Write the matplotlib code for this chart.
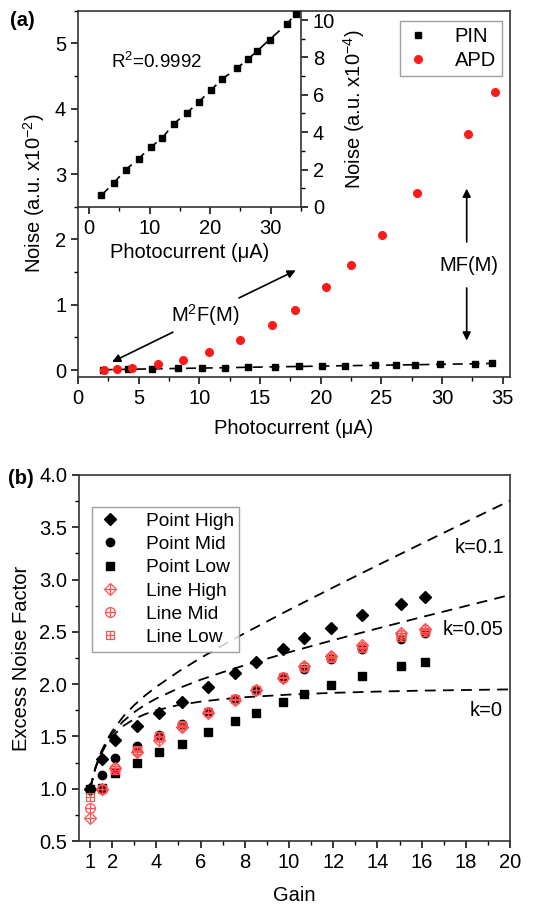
import matplotlib
matplotlib.use("Agg")
import matplotlib.pyplot as plt
from matplotlib.ticker import MultipleLocator, FixedLocator, FormatStrFormatter
from matplotlib.legend_handler import HandlerTuple

plt.rcParams['font.family'] = ['Liberation Sans', 'DejaVu Sans']
plt.rcParams['mathtext.fontset'] = 'custom'
plt.rcParams['mathtext.rm'] = 'Liberation Sans'

# ---- panel (a) data ----
pin_current = [2.04, 4.08, 6.07, 8.22, 10.2, 12.08, 14.0, 16.2, 18.2, 20.1, 22.0,
               24.5, 26.2, 27.8, 29.8, 32.7, 34.1]
pin_noise_e4 = [0.62, 1.28, 1.99, 2.59, 3.20, 3.68, 4.45, 5.04, 5.64, 6.24, 6.84,
                7.44, 7.89, 8.35, 8.95, 9.79, 10.34]   # a.u. x1e-4
apd_current = [2.12, 3.22, 4.48, 6.63, 8.63, 10.83, 13.34, 15.95, 17.9, 20.46,
               22.52, 25.05, 27.93, 32.1, 34.4]
apd_noise_e2 = [0.0, 0.015, 0.04, 0.087, 0.163, 0.275, 0.46, 0.69, 0.917, 1.27,
                1.61, 2.07, 2.71, 3.62, 4.25]            # a.u. x1e-2

# ---- panel (b) data ----
gain = [1.0, 1.53, 2.13, 3.14, 4.12, 5.15, 6.35, 7.58, 8.53, 9.72, 10.68, 11.89,
        13.29, 15.09, 16.16]
point_high = [1.0, 1.28, 1.47, 1.60, 1.72, 1.83, 1.97, 2.11, 2.21, 2.34, 2.44,
              2.54, 2.66, 2.77, 2.83]
point_mid = [1.0, 1.13, 1.29, 1.41, 1.51, 1.62, 1.73, 1.855, 1.94, 2.055, 2.148,
             2.237, 2.336, 2.43, 2.486]
point_low = [1.0, 1.01, 1.147, 1.25, 1.35, 1.43, 1.54, 1.647, 1.724, 1.83, 1.91,
             1.99, 2.08, 2.17, 2.21]
line_high = [0.72, 1.0, 1.195, 1.35, 1.47, 1.59, 1.72, 1.85, 1.94, 2.06, 2.17,
             2.27, 2.37, 2.486, 2.53]
line_mid = [0.82, 1.0, 1.20, 1.36, 1.49, 1.60, 1.73, 1.855, 1.945, 2.07, 2.165,
            2.26, 2.36, 2.47, 2.52]
line_low = [0.92, 1.0, 1.18, 1.37, 1.50, 1.61, 1.73, 1.86, 1.945, 2.065, 2.16,
            2.25, 2.345, 2.45, 2.50]

# theory curves
theory_gain = [1, 1.25, 1.5, 1.75, 2, 2.5, 3, 3.5, 4, 5, 6, 7, 8, 10, 12, 14, 16, 18, 20]
k_0 = [1.0, 1.2, 1.333, 1.429, 1.5, 1.6, 1.667, 1.714, 1.75, 1.8, 1.833, 1.857,
       1.875, 1.9, 1.917, 1.929, 1.938, 1.944, 1.95]
k_005 = [1.0, 1.203, 1.342, 1.445, 1.525, 1.645, 1.733, 1.804, 1.863, 1.96, 2.042,
         2.114, 2.181, 2.305, 2.421, 2.532, 2.641, 2.747, 2.853]
k_01 = [1.0, 1.205, 1.35, 1.461, 1.55, 1.69, 1.8, 1.893, 1.975, 2.12, 2.25, 2.371,
        2.488, 2.71, 2.925, 3.136, 3.344, 3.55, 3.755]

RED = '#ff1a1a'
PINK = '#ff5050'
FS = 14.5
DASH = (0, (6, 4))


def style_ticks(ax):
    ax.tick_params(which='major', direction='out', length=5, width=1.1, labelsize=FS)
    ax.tick_params(which='minor', direction='out', length=3, width=1.0)
    for s in ax.spines.values():
        s.set_linewidth(1.2)
        s.set_color('#333333')


fig = plt.figure(figsize=(5.47, 9.11), dpi=100)

# ================= (a) =================
ax = fig.add_axes([0.1426, 0.5865, 0.7898, 0.4018])
pin_main = [v / 100.0 for v in pin_noise_e4]
ax.plot(pin_current, pin_main, color='black', linestyle=DASH, linewidth=1.2)
ax.plot(pin_current, pin_main, color='black', linestyle='none',
        marker='s', markersize=5, label='PIN')
ax.plot(apd_current, apd_noise_e2, linestyle='none', marker='o', markersize=5.5,
        color=RED, label='APD')
ax.set_xlim(0, 35.6)
ax.set_ylim(-0.1, 5.5)
ax.xaxis.set_major_locator(MultipleLocator(5))
ax.xaxis.set_minor_locator(MultipleLocator(2.5))
ax.yaxis.set_major_locator(MultipleLocator(1))
ax.yaxis.set_minor_locator(MultipleLocator(0.5))
style_ticks(ax)
ax.set_xlabel('Photocurrent (μA)', fontsize=FS, labelpad=8)
ax.set_ylabel('Noise (a.u. x10$^{-2}$)', fontsize=FS, labelpad=6)
leg = ax.legend(loc='upper right', bbox_to_anchor=(0.981, 0.972), borderaxespad=0,
                fontsize=FS, frameon=True, fancybox=False, edgecolor='#888888',
                handletextpad=1.2, borderpad=0.3, labelspacing=0.25, handlelength=1.2)
leg.get_frame().set_linewidth(1.0)

ax.text(10.45, 0.85, 'M$^2$F(M)', fontsize=FS, ha='center', va='center')
arrow = dict(arrowstyle='-|>', color='black', lw=1.2, mutation_scale=12)
ax.annotate('', xy=(2.6, 0.107), xytext=(8.03, 0.60), arrowprops=arrow)
ax.annotate('', xy=(18.15, 1.545), xytext=(13.06, 1.086), arrowprops=arrow)
ax.text(32.17, 1.60, 'MF(M)', fontsize=FS, ha='center', va='center')
ax.annotate('', xy=(32.03, 2.82), xytext=(32.03, 1.92), arrowprops=arrow)
ax.annotate('', xy=(32.03, 0.41), xytext=(32.03, 1.30), arrowprops=arrow)

# inset
ins = fig.add_axes([0.1426, 0.7728, 0.4077, 0.2155])
ins.patch.set_alpha(0)
ins.plot(pin_current, pin_noise_e4, color='black', linestyle=DASH, linewidth=1.2,
         marker='s', markersize=5)
ins.set_xlim(-1.8, 35)
ins.set_ylim(0, 10.5)
ins.spines['left'].set_visible(False)
ins.spines['top'].set_visible(False)
ins.yaxis.tick_right()
ins.yaxis.set_label_position('right')
ins.xaxis.set_major_locator(MultipleLocator(10))
ins.xaxis.set_minor_locator(MultipleLocator(5))
ins.yaxis.set_major_locator(MultipleLocator(2))
ins.yaxis.set_minor_locator(MultipleLocator(1))
style_ticks(ins)
ins.set_xlabel('Photocurrent (μA)', fontsize=FS, labelpad=4)
ins.set_ylabel('Noise (a.u. x10$^{-4}$)', fontsize=FS, labelpad=4)
ins.text(3.7, 7.76, 'R$^2$=0.9992', fontsize=13.5, ha='left', va='center')

fig.text(0.018, 0.978, '(a)', fontsize=FS, fontweight='bold', ha='left', va='center')

# ================= (b) =================
bx = fig.add_axes([0.1444, 0.0768, 0.788, 0.4018])
for yk in (k_01, k_005, k_0):
    bx.plot(theory_gain, yk, color='black', linestyle=DASH, linewidth=1.3)

h1, = bx.plot(gain, point_high, linestyle='none', marker='D', markersize=6,
              color='black')
h2, = bx.plot(gain, point_mid, linestyle='none', marker='o', markersize=6,
              color='black')
h3, = bx.plot(gain, point_low, linestyle='none', marker='s', markersize=6,
              color='black')


def open_cross(y, mk, ms):
    a, = bx.plot(gain, y, linestyle='none', marker=mk, markersize=ms,
                 markerfacecolor='none', markeredgecolor=PINK, markeredgewidth=0.9)
    b, = bx.plot(gain, y, linestyle='none', marker='+', markersize=ms,
                 color=PINK, markeredgewidth=0.9)
    return (a, b)


h4 = open_cross(line_high, 'D', 6.5)
h5 = open_cross(line_mid, 'o', 7)
h6 = open_cross(line_low, 's', 6)

bx.set_xlim(0.5, 20)
bx.set_ylim(0.5, 4.0)
bx.xaxis.set_major_locator(FixedLocator([1, 2, 4, 6, 8, 10, 12, 14, 16, 18, 20]))
bx.xaxis.set_minor_locator(FixedLocator([3, 5, 7, 9, 11, 13, 15, 17, 19]))
bx.yaxis.set_major_locator(MultipleLocator(0.5))
bx.yaxis.set_minor_locator(MultipleLocator(0.25))
bx.yaxis.set_major_formatter(FormatStrFormatter('%.1f'))
style_ticks(bx)
bx.set_xlabel('Gain', fontsize=FS, labelpad=10)
bx.set_ylabel('Excess Noise Factor', fontsize=FS, labelpad=6)

lg = bx.legend([h1, h2, h3, h4, h5, h6],
               ['Point High', 'Point Mid', 'Point Low', 'Line High', 'Line Mid', 'Line Low'],
               handler_map={tuple: HandlerTuple(ndivide=1, pad=0)},
               loc='upper left', bbox_to_anchor=(0.03, 0.913), borderaxespad=0,
               fontsize=13.8, frameon=True, fancybox=False, edgecolor='#888888',
               handletextpad=1.2, borderpad=0.3, labelspacing=0.3, handlelength=1.3)
lg.get_frame().set_linewidth(1.0)

bx.text(17.5, 3.31, 'k=0.1', fontsize=FS, ha='left', va='center')
bx.text(16.96, 2.52, 'k=0.05', fontsize=FS, ha='left', va='center')
bx.text(18.16, 1.75, 'k=0', fontsize=FS, ha='left', va='center')

fig.text(0.015, 0.475, '(b)', fontsize=FS, fontweight='bold', ha='left', va='center')

fig.savefig('out.png', dpi=100)
